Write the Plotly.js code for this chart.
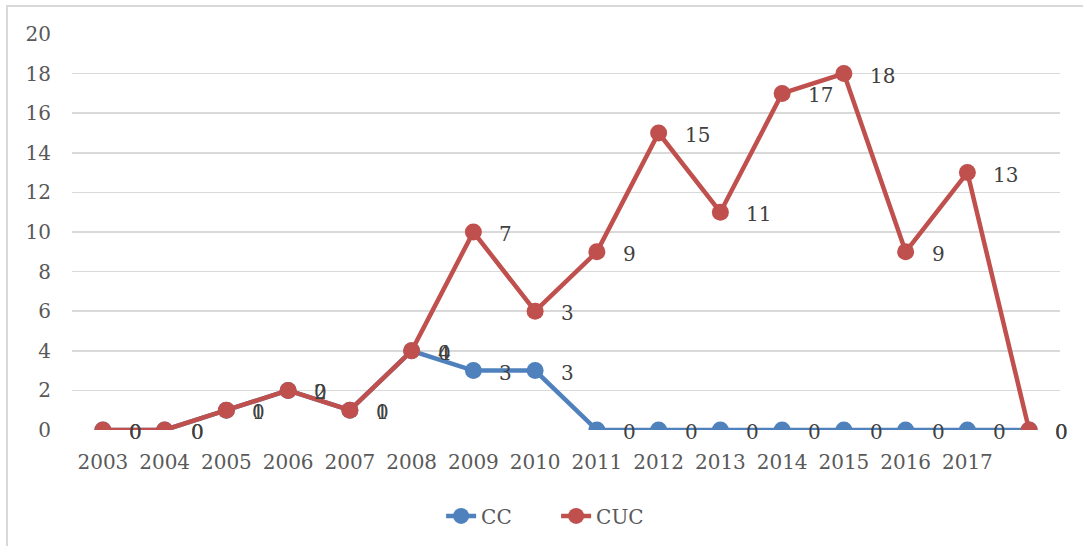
<!DOCTYPE html>
<html>
<head>
<meta charset="utf-8">
<script src="https://cdn.plot.ly/plotly-3.0.1.min.js"></script>
<style>
  html, body { margin: 0; padding: 0; background: #ffffff; }
  #frame { position: absolute; left: 6px; top: 5px; width: 1090px; height: 560px;
           border-top: 2px solid #d9d9d9; border-left: 2px solid #d9d9d9; }
  #chart { position: absolute; left: 0; top: 0; width: 1083px; height: 546px; }
</style>
</head>
<body>
<div id="frame"></div>
<div id="chart"></div>
<script>
const years = ['2003','2004','2005','2006','2007','2008','2009','2010','2011','2012','2013','2014','2015','2016','2017',''];
const cc  = [0,0,1,2,1,4,3,3,0,0,0,0,0,0,0,0];
const cuc = [0,0,0,0,0,0,7,3,9,15,11,17,18,9,13,0];
const yTicks = [0,2,4,6,8,10,12,14,16,18,20];

const idx = years.map((_, i) => i);
const fontFam = '"DejaVu Serif", "Liberation Serif", serif';

const traces = [
  {
    name: 'CC', x: idx, y: cc, stackgroup: 'one', fill: 'none',
    mode: 'lines+markers',
    line: {color: '#4f81bd', width: 4.5},
    marker: {color: '#4f81bd', size: 17},
    hoverinfo: 'none'
  },
  {
    name: 'CUC', x: idx, y: cuc, stackgroup: 'one', fill: 'none',
    mode: 'lines+markers',
    line: {color: '#c0504d', width: 4.5},
    marker: {color: '#c0504d', size: 17},
    hoverinfo: 'none'
  }
];

// data labels placed to the right of each stacked point
const annotations = [];
const labelFont = {family: fontFam, size: 20, color: '#404040'};
idx.forEach(i => {
  annotations.push({x: i, y: cc[i], xref: 'x', yref: 'y', text: String(cc[i]), showarrow: false,
    xanchor: 'left', yanchor: 'middle', xshift: 24, yshift: -2, font: labelFont});
});
idx.forEach(i => {
  annotations.push({x: i, y: cc[i] + cuc[i], xref: 'x', yref: 'y', text: String(cuc[i]), showarrow: false,
    xanchor: 'left', yanchor: 'middle', xshift: 24, yshift: -2, font: labelFont});
});

const layout = {
  width: 1083, height: 546,
  paper_bgcolor: 'rgba(0,0,0,0)', plot_bgcolor: 'rgba(0,0,0,0)',
  margin: {l: 72, r: 23, t: 34, b: 115},
  font: {family: fontFam, size: 20, color: '#595959'},
  showlegend: true,
  legend: {orientation: 'h', x: 0.49, xanchor: 'center', y: -0.214, yanchor: 'middle',
           font: {family: fontFam, size: 20, color: '#595959'}, entrywidth: 70},
  annotations: annotations,
  xaxis: {
    range: [-0.5, years.length - 0.5], tickvals: idx.slice(0, 15), ticktext: years.slice(0, 15),
    showgrid: false, zeroline: false, showline: false, ticks: '',
    tickfont: {family: fontFam, size: 20, color: '#595959'}, ticklabelstandoff: 18
  },
  yaxis: {
    range: [0, 20], tickvals: yTicks, showgrid: true, gridcolor: '#d9d9d9', gridwidth: 1.5,
    zeroline: false, showline: false, ticks: '',
    tickfont: {family: fontFam, size: 20, color: '#595959'}, ticklabelstandoff: 20
  }
};

Plotly.newPlot('chart', traces, layout, {displayModeBar: false, staticPlot: true});
</script>
</body>
</html>
